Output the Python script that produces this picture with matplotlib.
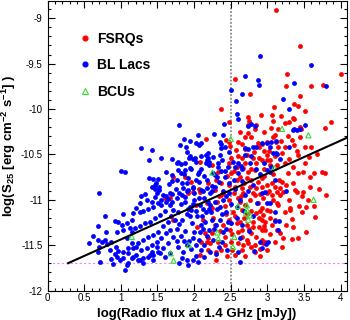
import numpy as np
import matplotlib
matplotlib.use("Agg")
import matplotlib.pyplot as plt
from matplotlib.lines import Line2D
from matplotlib.ticker import MultipleLocator

plt.rcParams['font.family'] = ['Liberation Sans', 'DejaVu Sans']
plt.rcParams['mathtext.fontset'] = 'custom'
plt.rcParams['mathtext.rm'] = 'Liberation Sans:bold'
plt.rcParams['mathtext.it'] = 'Liberation Sans:bold'
plt.rcParams['mathtext.bf'] = 'Liberation Sans:bold'

# log(radio flux [mJy]), log(S25)
fsrq_points = [
    (3.12, -8.91), (3.45, -9.31), (4.01, -9.62), (3.27, -9.61), (2.56, -9.67), (3.60, -9.75),
    (3.76, -9.74), (3.25, -9.75), (2.76, -9.83), (3.45, -9.86), (3.36, -9.95), (3.42, -9.97),
    (3.09, -9.98), (2.37, -10.00), (3.51, -10.02), (3.06, -10.07), (2.91, -10.07), (3.18, -10.08),
    (2.73, -10.09), (2.48, -10.14), (3.37, -10.11), (2.75, -10.13), (2.74, -10.18), (3.07, -10.13),
    (3.29, -10.14), (3.35, -10.10), (3.24, -10.15), (3.44, -10.20), (3.46, -10.22), (3.45, -10.31),
    (3.10, -10.29), (3.08, -10.31), (3.19, -10.35), (3.24, -10.42), (3.36, -10.40), (3.52, -10.42),
    (3.60, -10.42), (3.79, -10.21), (3.87, -10.14), (3.42, -10.51), (3.57, -10.53), (2.16, -10.33),
    (2.47, -10.36), (2.57, -10.45), (2.66, -10.39), (2.69, -10.31), (2.73, -10.26), (2.77, -10.31),
    (2.87, -10.38), (2.92, -10.39), (2.89, -10.42), (2.99, -10.51), (3.02, -10.46), (3.05, -10.21),
    (3.12, -10.36), (2.62, -10.25), (2.85, -10.18), (2.83, -10.22), (2.43, -10.34), (2.49, -10.41),
    (2.60, -10.52), (2.65, -10.54), (2.72, -10.51), (2.81, -10.54), (2.51, -10.54),
    (2.85, -10.60), (2.58, -10.64), (2.67, -10.65), (2.74, -10.69), (2.83, -10.67), (2.51, -10.71),
    (2.62, -10.75), (2.72, -10.76), (2.78, -10.78), (2.87, -10.80), (2.37, -10.82), (2.47, -10.84),
    (2.56, -10.86), (2.65, -10.87), (2.76, -10.86), (2.85, -10.87), (1.87, -10.75), (1.96, -10.80),
    (2.08, -10.58), (2.24, -10.62), (2.33, -10.69), (2.19, -10.82), (2.28, -10.89), (2.08, -10.91),
    (2.47, -10.60), (2.99, -10.56), (3.03, -10.62), (3.13, -10.62), (3.24, -10.60), (3.35, -10.64),
    (3.42, -10.71), (3.49, -10.69), (3.58, -10.75), (3.63, -10.71), (3.74, -10.69), (3.35, -10.82),
    (3.26, -10.84), (3.17, -10.87), (3.22, -10.91), (3.38, -10.89), (3.49, -10.91), (3.58, -10.86),
    (2.99, -10.84), (2.92, -10.76), (3.06, -10.82), (1.60, -10.98), (1.67, -10.98), (1.71, -10.75),
    (1.71, -11.22), (1.92, -10.93), (1.99, -10.91), (2.17, -11.04), (2.24, -11.09), (2.31, -11.02),
    (2.37, -10.95), (2.42, -11.07), (2.47, -11.00), (2.53, -11.13), (2.60, -10.98), (2.65, -11.11),
    (2.67, -10.93), (2.76, -11.00), (2.83, -10.95), (2.87, -11.04), (2.85, -11.15), (2.81, -11.24),
    (2.72, -11.28), (2.65, -11.33), (2.58, -11.26), (2.47, -11.22), (2.40, -11.28), (2.49, -11.33),
    (2.42, -11.41), (2.33, -11.46), (2.22, -11.48), (2.17, -11.46), (2.19, -11.55), (2.08, -11.61),
    (2.15, -11.37), (2.24, -11.37), (2.65, -11.41), (2.72, -11.44), (2.78, -11.37), (2.78, -11.52),
    (2.85, -11.41), (2.60, -11.48), (2.10, -11.46), (2.67, -11.50), (2.37, -11.55), (2.19, -11.42),
    (2.42, -11.50), (2.83, -11.50), (2.90, -11.54), (2.94, -11.48), (2.74, -11.48), (2.65, -11.55),
    (2.56, -11.61), (2.83, -11.57), (2.99, -11.55), (2.99, -10.93), (3.06, -10.95), (3.13, -10.91),
    (3.17, -10.95), (3.40, -10.91), (2.94, -10.98), (3.08, -11.00), (3.13, -11.04), (3.15, -11.06),
    (2.99, -11.11), (2.92, -11.09), (2.94, -11.17), (2.92, -11.22), (2.97, -11.24), (2.95, -11.29),
    (2.92, -11.33), (2.97, -11.33), (3.13, -11.33), (3.17, -11.37), (3.24, -11.13), (3.31, -11.11),
    (3.33, -11.21), (3.26, -11.28), (3.43, -11.07), (3.47, -11.13), (3.63, -11.07), (3.65, -11.19),
    (3.53, -11.36), (3.42, -11.42), (3.34, -11.43), (2.92, -11.44), (2.97, -11.47),
    (2.55, -10.92), (2.62, -11.02), (2.70, -11.06), (2.78, -11.12), (2.88, -11.20), (2.56, -11.18),
    (2.68, -11.20), (2.75, -11.32), (2.52, -11.38), (2.88, -11.30), (3.03, -11.20), (3.06, -11.28),
    (3.03, -11.38), (2.55, -10.68), (2.70, -10.60), (2.95, -10.66), (3.08, -10.72), (3.16, -10.78),
    (3.28, -10.70), (2.45, -10.74), (2.30, -10.78), (2.40, -10.92), (2.90, -10.94), (3.10, -10.52),
    (3.20, -10.48), (3.30, -10.55), (2.82, -10.47), (2.93, -10.56), (2.60, -10.36), (2.95, -10.25),
    (3.15, -10.22), (3.28, -10.30), (2.26, -11.20), (2.36, -11.34), (2.50, -11.46), (2.04, -11.30),
    (2.30, -11.58), (2.45, -11.62), (2.70, -11.62), (2.90, -11.62), (3.20, -11.52), (3.10, -11.46),
    (2.58, -10.78), (2.68, -10.82), (2.80, -10.92), (2.92, -10.86), (3.02, -10.90), (3.10, -10.86),
    (3.20, -10.80), (2.64, -10.96), (2.72, -11.16), (2.62, -11.24), (2.90, -11.12), (3.04, -11.12),
    (3.10, -11.22), (2.80, -11.30), (2.60, -11.36), (2.44, -11.16), (2.34, -10.96), (2.88, -10.54),
    (3.00, -10.36), (3.15, -10.42), (2.96, -10.46), (2.70, -10.44), (2.78, -10.66), (2.96, -10.74),
    (3.04, -10.56), (3.34, -10.34), (3.40, -10.46), (3.52, -10.60), (3.68, -10.50), (3.70, -10.88),
    (3.80, -10.95), (3.55, -11.00), (3.30, -11.00), (3.22, -11.42), (2.52, -11.55), (2.28, -11.28),
    (2.12, -11.22), (2.02, -11.06), (2.06, -10.88), (2.30, -11.66), (3.47, -10.96), (3.53, -11.08),
    (3.31, -11.09), (3.35, -11.30), (3.78, -10.70),
]

bll_points = [
    (0.70, -10.92), (0.78, -11.18), (0.92, -11.23), (0.96, -11.24), (0.69, -11.29), (0.80, -11.36),
    (0.62, -11.40), (0.69, -11.44), (0.57, -11.48), (0.70, -11.52), (0.79, -11.44), (0.86, -11.46),
    (0.81, -11.49), (0.69, -11.58), (0.71, -11.68), (0.86, -11.65), (0.93, -11.52), (0.96, -11.56),
    (0.95, -11.63), (0.99, -11.66), (0.89, -11.71), (0.95, -11.35), (0.85, -11.55), (0.92, -11.60),
    (0.74, -11.47),
    (1.28, -10.43), (1.42, -10.45), (1.38, -10.56), (1.55, -10.54), (1.70, -10.55), (1.00, -10.68),
    (1.05, -10.69), (1.62, -10.69), (1.70, -10.73), (1.38, -10.76), (1.44, -10.77), (1.51, -10.77),
    (1.48, -10.82), (1.46, -10.84), (1.43, -10.86), (1.52, -10.86), (1.47, -10.88), (1.52, -10.89),
    (1.66, -10.83), (1.70, -10.79),
    (1.03, -11.16), (1.01, -11.28), (1.08, -11.26), (1.15, -11.22), (1.26, -11.14), (1.30, -11.12),
    (1.37, -11.10), (1.44, -11.08), (1.51, -11.04), (1.55, -11.00), (1.62, -10.96), (1.67, -10.93),
    (1.36, -11.00), (1.42, -11.03), (1.46, -10.97), (1.28, -10.96), (1.33, -10.94), (1.26, -11.04),
    (1.21, -11.09), (1.17, -11.15), (1.12, -11.31), (1.19, -11.31), (1.26, -11.29), (1.33, -11.26),
    (1.40, -11.24), (1.46, -11.20), (1.53, -11.17), (1.60, -11.12), (1.67, -11.06), (1.71, -11.11),
    (1.69, -11.18), (1.64, -11.24), (1.58, -11.29), (1.51, -11.35), (1.44, -11.39), (1.37, -11.41),
    (1.30, -11.44), (1.24, -11.48), (1.17, -11.53), (1.10, -11.59), (1.03, -11.64), (1.08, -11.42),
    (1.15, -11.48), (1.21, -11.52), (1.28, -11.55), (1.35, -11.53), (1.42, -11.50), (1.49, -11.46),
    (1.55, -11.42), (1.62, -11.37), (1.67, -11.33), (1.71, -11.41), (1.64, -11.48), (1.58, -11.53),
    (1.51, -11.57), (1.44, -11.61), (1.37, -11.63), (1.30, -11.64), (1.24, -11.66), (1.17, -11.63),
    (1.10, -11.70), (1.05, -11.77), (1.08, -11.72), (1.30, -11.70), (1.44, -11.66), (1.53, -11.59),
    (1.60, -11.63), (1.67, -11.59), (1.03, -11.57), (1.10, -11.53), (1.21, -11.61), (1.49, -11.52),
    (1.26, -11.66), (1.42, -11.57), (1.40, -11.61), (1.15, -11.64), (1.03, -11.33), (1.15, -11.35),
    (1.50, -10.93), (1.58, -10.95), (1.65, -10.99), (1.70, -10.94), (1.62, -11.02), (1.55, -11.06),
    (1.70, -11.02),
    (1.78, -10.58), (1.88, -10.60), (1.95, -10.65), (2.02, -10.58), (2.10, -10.66), (2.20, -10.62),
    (2.32, -10.60), (2.42, -10.68), (2.53, -10.58), (2.64, -10.63), (2.76, -10.60), (2.85, -10.66),
    (1.82, -10.70), (2.05, -10.72), (2.28, -10.73), (2.60, -10.71), (2.95, -10.60), (3.05, -10.64),
    (1.76, -10.78), (1.84, -10.82), (1.92, -10.76), (1.98, -10.86), (2.06, -10.80), (2.12, -10.90),
    (2.18, -10.78), (2.25, -10.85), (2.34, -10.80), (2.40, -10.90), (2.48, -10.82), (2.56, -10.88),
    (2.66, -10.79), (2.80, -10.84), (1.80, -10.92), (1.90, -10.90), (2.00, -10.93), (2.22, -10.93),
    (1.76, -10.98), (1.82, -11.05), (1.88, -10.97), (1.94, -11.08), (2.00, -11.00), (2.08, -11.06),
    (2.14, -10.98), (2.20, -11.10), (2.28, -11.02), (2.36, -11.08), (2.44, -10.96), (2.50, -11.05),
    (2.62, -11.00), (2.70, -10.95), (2.86, -11.04), (1.96, -11.11), (2.12, -11.10),
    (1.78, -11.14), (1.84, -11.22), (1.90, -11.16), (1.97, -11.26), (2.04, -11.18), (2.10, -11.28),
    (2.16, -11.14), (2.24, -11.22), (2.30, -11.28), (2.38, -11.16), (2.46, -11.24), (2.58, -11.20),
    (2.66, -11.28), (2.80, -11.18), (3.10, -11.23),
    (1.76, -11.32), (1.82, -11.40), (1.88, -11.34), (1.93, -11.45), (2.00, -11.36), (2.06, -11.44),
    (2.12, -11.32), (2.18, -11.40), (2.40, -11.36), (2.62, -11.42), (2.75, -11.34), (2.90, -11.46),
    (1.78, -11.52), (1.85, -11.58), (1.90, -11.66), (1.96, -11.54), (2.02, -11.62), (2.10, -11.55),
    (2.30, -11.60), (2.45, -11.55), (2.60, -11.58), (2.82, -11.56), (1.80, -11.70), (1.92, -11.72),
    (2.05, -11.68), (2.62, -11.68),
    (1.90, -10.47), (2.47, -10.47), (2.19, -10.49), (2.17, -10.56), (2.20, -10.58), (2.16, -10.60),
    (1.76, -10.59), (1.82, -10.61), (1.94, -10.52), (2.01, -10.54), (2.09, -10.52), (1.78, -10.67),
    (1.87, -10.67), (1.96, -10.66), (2.06, -10.69), (2.69, -10.51), (2.78, -10.52), (2.60, -10.60),
    (2.56, -10.64), (2.65, -10.66), (2.33, -10.64), (2.37, -10.68), (2.42, -10.75), (2.31, -10.75),
    (1.85, -10.87), (1.92, -10.89), (1.99, -10.87), (2.10, -10.89), (2.17, -10.87), (2.24, -10.90),
    (2.28, -10.86),
    (1.86, -10.33), (1.94, -10.35), (1.81, -10.40), (1.89, -10.42), (2.03, -10.37), (2.07, -10.40),
    (2.10, -10.38), (2.05, -10.29), (2.27, -10.28), (2.40, -10.29), (2.35, -10.36), (2.37, -10.39),
    (2.37, -10.43), (2.42, -10.42), (2.69, -10.43), (2.74, -10.44), (2.81, -10.42), (2.85, -10.42),
    (2.93, -10.38), (2.99, -10.37), (3.05, -10.36), (3.12, -10.35), (3.03, -10.42), (3.29, -10.42),
    (3.12, -10.48), (3.08, -10.49), (1.93, -10.54), (1.98, -10.55), (2.16, -10.51), (2.19, -10.54),
    (2.26, -10.53), (2.36, -10.51), (1.79, -10.18), (2.41, -10.17), (2.77, -10.17), (2.83, -10.19),
    (2.73, -10.19), (3.37, -10.22), (3.35, -10.23), (3.52, -10.18), (3.40, -10.23), (3.44, -10.22),
    (2.59, -10.06), (2.60, -10.11), (3.30, -10.00), (2.57, -9.91), (3.21, -9.89), (2.65, -9.83),
    (2.51, -9.79), (2.89, -9.74), (2.87, -9.68), (2.70, -9.64), (2.90, -9.42), (3.59, -9.51),
    (3.37, -9.71), (3.80, -9.75),
    (3.13, -10.50), (3.17, -10.55), (3.00, -10.67), (3.03, -10.69), (3.10, -10.78),
    (2.92, -10.92), (2.97, -10.91), (3.25, -10.90), (3.00, -11.04), (3.03, -11.04), (3.10, -11.14),
    (3.16, -11.23), (3.15, -11.33), (3.01, -11.46), (2.98, -11.49), (2.93, -11.53),
    (1.75, -10.88), (1.83, -10.95), (1.87, -11.02), (1.91, -11.10), (1.95, -11.18), (1.99, -11.05),
    (2.03, -11.12), (2.07, -10.98), (2.11, -11.18), (2.15, -11.24), (2.19, -11.02), (2.23, -11.14),
    (2.27, -11.32), (2.31, -11.10), (2.35, -11.22), (2.39, -11.00), (2.43, -11.14), (1.80, -11.27),
    (1.86, -11.45), (1.90, -11.50), (1.98, -11.42), (2.03, -11.50), (2.08, -11.36), (2.14, -11.50),
    (2.20, -11.33), (2.26, -11.44), (2.34, -11.52), (2.38, -11.46), (2.44, -11.32), (2.50, -11.26),
    (1.76, -11.45), (1.83, -11.64), (1.98, -11.66), (2.13, -11.63), (2.22, -11.58), (1.74, -11.22),
    (2.54, -10.78), (2.46, -10.64), (2.38, -10.56), (2.26, -10.70), (2.14, -10.74), (2.02, -10.78),
    (1.90, -10.82), (1.86, -10.72), (2.22, -11.06), (2.48, -10.92), (2.58, -11.08), (2.68, -11.12),
    (2.74, -10.90), (2.90, -10.72),
]

bcu_points = [
    (1.15, -11.41), (1.68, -11.59), (1.72, -11.67), (1.93, -11.50), (2.25, -10.70), (2.32, -11.36),
    (2.33, -11.43), (2.53, -11.52), (2.55, -11.41), (2.50, -10.33), (2.60, -11.07), (2.72, -11.06),
    (2.72, -11.11), (2.71, -11.15), (2.76, -11.17), (2.74, -11.22), (3.09, -10.65), (3.20, -10.22),
    (3.56, -10.29), (3.63, -11.00),
]

# linear fit drawn across the sample
fit_slope = 0.363
fit_intercept = -11.80
fit_x = [0.28, 4.08]
flux_cut = 2.5
s25_limit = -11.7

fsrq = np.array(fsrq_points)
bll = np.array(bll_points)
bcu = np.array(bcu_points)

fig = plt.figure(figsize=(3.5, 3.2), dpi=100)
ax = fig.add_axes([0.136, 0.092, 0.854, 0.905])

ax.axhline(s25_limit, color='#ee88ee', lw=0.8, ls=(0, (2, 2)), zorder=1)
ax.axvline(flux_cut, color='#888888', lw=1.3, ls=(0, (1, 1)), zorder=1)

ax.scatter(fsrq[:, 0], fsrq[:, 1], s=12, color='#ff0000', linewidths=0, zorder=2)
ax.scatter(bll[:, 0], bll[:, 1], s=12, color='#0000ff', linewidths=0, zorder=2)
ax.scatter(bcu[:, 0], bcu[:, 1], s=14, marker='^', facecolors='none', edgecolors='#33dd33',
           linewidths=0.8, zorder=3)

xf = np.array(fit_x)
ax.plot(xf, fit_intercept + fit_slope * xf, color='k', lw=1.5, zorder=4)

ax.set_xlim(0, 4.08)
ax.set_ylim(-12, -8.81)
ax.xaxis.set_major_locator(MultipleLocator(0.5))
ax.xaxis.set_minor_locator(MultipleLocator(0.1))
ax.yaxis.set_major_locator(MultipleLocator(0.5))
ax.yaxis.set_minor_locator(MultipleLocator(0.1))
ax.xaxis.set_major_formatter(plt.FuncFormatter(lambda v, p: f'{v:g}'))
ax.yaxis.set_major_formatter(plt.FuncFormatter(lambda v, p: f'{v:g}'))
ax.tick_params(which='both', direction='in', top=True, right=True, labelsize=7, width=0.8)
ax.tick_params(which='major', length=5)
ax.tick_params(which='minor', length=2.5)
ax.tick_params(axis='x', pad=2)

ax.set_xlabel('log(Radio flux at 1.4 GHz [mJy])', fontsize=9.5, fontweight='bold', labelpad=3)
ax.set_ylabel('log(S$_{25}$ [erg cm$^{-2}$ s$^{-1}$] )', fontsize=9.5, fontweight='bold')
ax.yaxis.set_label_coords(-0.10, 0.5)

handles = [
    Line2D([], [], ls='none', marker='o', ms=3.4, color='#ff0000', label='FSRQs'),
    Line2D([], [], ls='none', marker='o', ms=3.4, color='#0000ff', label='BL Lacs'),
    Line2D([], [], ls='none', marker='^', ms=4, mfc='none', mec='#33dd33', mew=0.8, label='BCUs'),
]
leg = ax.legend(handles=handles, loc='upper left', bbox_to_anchor=(0.06, 0.937), frameon=False,
                handlelength=1.0, handletextpad=0.4, labelspacing=0.9,
                prop={'weight': 'bold', 'size': 10})

fig.savefig('out.png', dpi=100)
